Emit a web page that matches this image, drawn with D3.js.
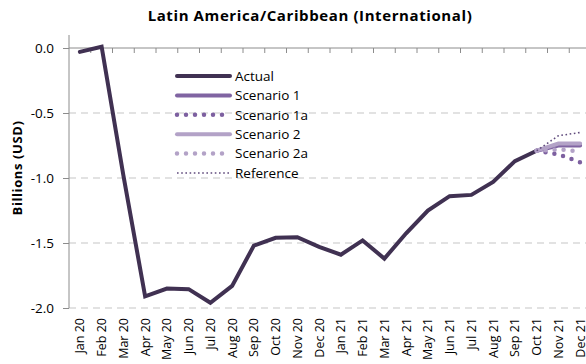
<!DOCTYPE html>
<html>
<head>
<meta charset="utf-8">
<script src="https://cdn.jsdelivr.net/npm/d3@7/dist/d3.min.js"></script>
<style>
  html, body { margin: 0; padding: 0; background: #fff; }
  svg { display: block; font-family: "Open Sans", Lato, sans-serif; }
</style>
</head>
<body>
<svg id="chart" width="586" height="364"></svg>
<script>
// Monthly categories
const months = ["Jan 20","Feb 20","Mar 20","Apr 20","May 20","Jun 20","Jul 20","Aug 20",
  "Sep 20","Oct 20","Nov 20","Dec 20","Jan 21","Feb 21","Mar 21","Apr 21","May 21",
  "Jun 21","Jul 21","Aug 21","Sep 21","Oct 21","Nov 21","Dec 21"];

// Series values, billions of USD (null = no value for that month)
const actual = [-0.03, 0.01, -0.98, -1.91, -1.85, -1.855, -1.96, -1.83, -1.52, -1.46,
  -1.455, -1.53, -1.59, -1.48, -1.62, -1.425, -1.25, -1.14, -1.13, -1.03, -0.87, -0.79,
  null, null];
const scenario1  = [...Array(21).fill(null), -0.79, -0.75, -0.75];
const scenario1a = [...Array(21).fill(null), -0.79, -0.818, -0.879];
const scenario2  = [...Array(21).fill(null), -0.79, -0.735, -0.735];
const scenario2a = [...Array(21).fill(null), -0.79, -0.78, -0.795];
const reference  = [...Array(21).fill(null), -0.79, -0.675, -0.65];

const yTicks = [0, -0.5, -1.0, -1.5, -2.0];
const yDomain = [-2.0, 0.1];

const title = "Latin America/Caribbean (International)";
const yTitle = "Billions (USD)";

const series = [
  { name: "Actual",      values: actual,     color: "#403152", width: 4,   dash: null,    cap: "round" },
  { name: "Scenario 1",  values: scenario1,  color: "#8064a2", width: 4,   dash: null,    cap: "round" },
  { name: "Scenario 1a", values: scenario1a, color: "#7d60a0", width: 4.5, dash: "0 9",   cap: "round" },
  { name: "Scenario 2",  values: scenario2,  color: "#b3a2c7", width: 4,   dash: null,    cap: "round" },
  { name: "Scenario 2a", values: scenario2a, color: "#b3a2c7", width: 4.5, dash: "0 9",   cap: "round" },
  { name: "Reference",   values: reference,  color: "#5f4a7c", width: 1.6, dash: "1.6 2.6", cap: "butt" }
];

const svg = d3.select("#chart");
const plot = { left: 69, right: 591, top: 35, bottom: 308 };

const x = d3.scaleBand().domain(months).range([plot.left, plot.right]).paddingInner(0).paddingOuter(0);
const y = d3.scaleLinear().domain(yDomain).range([plot.bottom, plot.top]);
const cx = m => x(m) + x.bandwidth() / 2;

// Title
svg.append("text")
  .attr("x", 310).attr("y", 21)
  .attr("text-anchor", "middle")
  .attr("font-weight", "bold").attr("font-size", 15)
  .attr("letter-spacing", 0.6)
  .attr("fill", "#000")
  .text(title);

// Dashed horizontal gridlines
svg.append("g").selectAll("line")
  .data(yTicks.filter(v => v !== 0))
  .join("line")
  .attr("x1", plot.left).attr("x2", plot.right)
  .attr("y1", d => y(d)).attr("y2", d => y(d))
  .attr("stroke", "#d9d9d9").attr("stroke-width", 1.3)
  .attr("stroke-dasharray", "7 5");

// Y axis
const yAxis = svg.append("g")
  .attr("transform", `translate(${plot.left},0)`)
  .call(d3.axisLeft(y).tickValues(yTicks).tickFormat(d3.format(".1f")).tickSize(6).tickPadding(9));
yAxis.select(".domain").attr("stroke", "#8c8c8c").attr("d", `M0,${plot.top}V${plot.bottom}`);
yAxis.selectAll(".tick line").attr("stroke", "#8c8c8c");
yAxis.selectAll(".tick text")
  .attr("font-size", 13.5).attr("fill", "#000")
  .attr("font-family", "'Open Sans', sans-serif")
  .text(d => d === 0 ? "0.0" : d3.format(".1f")(d).replace("−", "-"));

// Category axis drawn along zero, tick marks at band edges pointing down
const zeroY = y(0);
svg.append("line")
  .attr("x1", plot.left).attr("x2", plot.right)
  .attr("y1", zeroY).attr("y2", zeroY)
  .attr("stroke", "#8c8c8c").attr("stroke-width", 1);
svg.append("g").selectAll("line")
  .data(months.slice(1))
  .join("line")
  .attr("x1", d => x(d)).attr("x2", d => x(d))
  .attr("y1", zeroY).attr("y2", zeroY + 5)
  .attr("stroke", "#8c8c8c");

// Category labels below the plot, rotated
svg.append("g").selectAll("text")
  .data(months)
  .join("text")
  .attr("transform", d => `translate(${cx(d) + 4.5},${plot.bottom + 10}) rotate(-90)`)
  .attr("text-anchor", "end")
  .attr("font-size", 12.5).attr("fill", "#000")
  .text(d => d);

// Y axis title
svg.append("text")
  .attr("transform", `translate(22,168) rotate(-90)`)
  .attr("text-anchor", "middle")
  .attr("font-weight", "bold").attr("font-size", 13)
  .attr("letter-spacing", 0.6)
  .attr("fill", "#000")
  .text(yTitle);

// Series lines
const line = d3.line()
  .defined(d => d.v !== null)
  .x(d => cx(d.m))
  .y(d => y(d.v));

series.forEach(s => {
  svg.append("path")
    .datum(months.map((m, i) => ({ m, v: s.values[i] })))
    .attr("d", line)
    .attr("fill", "none")
    .attr("stroke", s.color)
    .attr("stroke-width", s.width)
    .attr("stroke-linecap", s.cap)
    .attr("stroke-linejoin", "miter")
    .attr("stroke-dasharray", s.dash);
});

// Legend
const legend = svg.append("g").attr("transform", "translate(177,76)");
const rowH = 19.4;
series.forEach((s, i) => {
  const g = legend.append("g").attr("transform", `translate(0,${i * rowH})`);
  g.append("line")
    .attr("x1", 0).attr("x2", s.dash && s.width > 2 ? 50 : 53)
    .attr("y1", 0).attr("y2", 0)
    .attr("stroke", s.color)
    .attr("stroke-width", s.width)
    .attr("stroke-linecap", s.cap)
    .attr("stroke-dasharray", s.dash);
  g.append("text")
    .attr("x", 58).attr("y", 0).attr("dy", "0.35em")
    .attr("font-size", 13.5).attr("fill", "#000")
    .text(s.name);
});
</script>
</body>
</html>
